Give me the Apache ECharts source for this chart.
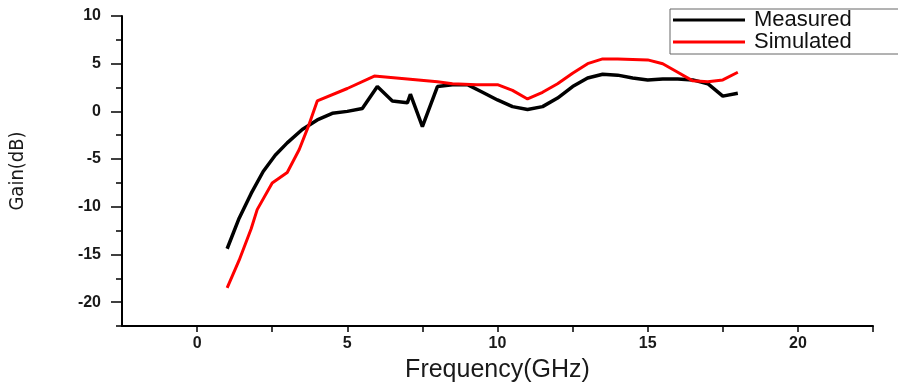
<!DOCTYPE html>
<html>
<head>
<meta charset="utf-8">
<script src="https://cdn.jsdelivr.net/npm/echarts@6/dist/echarts.min.js"></script>
<style>
  html, body { margin: 0; padding: 0; background: #fff; }
  #chart { width: 898px; height: 388px; }
</style>
</head>
<body>
<div id="chart"></div>
<script>
// Measured gain, [frequency GHz, gain dB]
var measured = [
  [1.0, -14.4], [1.4, -11.2], [1.8, -8.6], [2.2, -6.3], [2.6, -4.6],
  [3.0, -3.3], [3.5, -1.9], [4.0, -0.9], [4.5, -0.2], [5.0, 0.0],
  [5.5, 0.3], [6.0, 2.6], [6.5, 1.1], [7.0, 0.9], [7.1, 1.8],
  [7.5, -1.6], [8.0, 2.6], [8.5, 2.8], [9.0, 2.8], [9.5, 2.0],
  [10.0, 1.2], [10.5, 0.5], [11.0, 0.2], [11.5, 0.5], [12.0, 1.4],
  [12.5, 2.6], [13.0, 3.5], [13.5, 3.9], [14.0, 3.8], [14.5, 3.5],
  [15.0, 3.3], [15.5, 3.4], [16.0, 3.4], [16.5, 3.3], [17.0, 2.9],
  [17.5, 1.6], [18.0, 1.9]
];
// Simulated gain
var simulated = [
  [1.0, -18.5], [1.4, -15.6], [1.8, -12.3], [2.0, -10.3], [2.5, -7.5],
  [3.0, -6.4], [3.4, -4.0], [3.7, -1.6], [4.0, 1.1], [5.0, 2.4],
  [5.9, 3.7], [7.0, 3.4], [8.0, 3.1], [8.5, 2.9], [9.3, 2.8],
  [10.0, 2.8], [10.5, 2.2], [11.0, 1.3], [11.5, 2.0], [12.0, 2.9],
  [12.5, 4.0], [13.0, 5.0], [13.5, 5.5], [14.0, 5.5], [15.0, 5.4],
  [15.5, 5.0], [16.0, 4.1], [16.5, 3.2], [17.0, 3.1], [17.5, 3.3],
  [18.0, 4.1]
];
var yMajorTicks = [-20, -15, -10, -5, 0, 5, 10];

var labelFont = {
  fontFamily: "Liberation Sans, Arial, sans-serif",
  fontSize: 16,
  fontWeight: "bold",
  color: "#1a1a1a"
};

var myChart = echarts.init(document.getElementById("chart"));
var option = {
  backgroundColor: "#fff",
  animation: false,
  grid: { left: 121, right: 25, top: 16, bottom: 53 },
  legend: {
    left: 670,
    top: 9,
    orient: "vertical",
    icon: "rect",
    itemWidth: 72,
    itemHeight: 3,
    itemGap: 0,
    padding: [0, 48, 1, 3],
    borderColor: "#666",
    borderWidth: 1,
    textStyle: {
      fontFamily: "Liberation Sans, Arial, sans-serif",
      fontSize: 22,
      lineHeight: 21,
      padding: [0, 0, 0, 4],
      color: "#111"
    },
    data: ["Measured", "Simulated"]
  },
  xAxis: {
    type: "value",
    min: -2.5,
    max: 22.5,
    interval: 2.5,
    name: "Frequency(GHz)",
    nameLocation: "middle",
    nameGap: 32,
    nameTextStyle: {
      fontFamily: "Liberation Sans, Arial, sans-serif",
      fontSize: 25,
      color: "#1a1a1a"
    },
    axisLine: { onZero: false, lineStyle: { color: "#000", width: 2 } },
    axisTick: { show: true, inside: false, length: 6, lineStyle: { color: "#000", width: 1.5 } },
    axisLabel: Object.assign({
      margin: 10,
      showMinLabel: false,
      formatter: function (v) { return v % 5 === 0 ? String(v) : ""; }
    }, labelFont),
    splitLine: { show: false }
  },
  yAxis: [
    {
      type: "value",
      min: -22.5,
      max: 10,
      interval: 2.5,
      name: "Gain(dB)",
      nameLocation: "middle",
      nameRotate: 90,
      nameGap: 94,
      nameTextStyle: {
        fontFamily: "Liberation Sans Narrow, DejaVu Sans Condensed, Arial, sans-serif",
        fontSize: 20,
        color: "#1a1a1a"
      },
      axisLine: { show: true, onZero: false, lineStyle: { color: "#000", width: 2 } },
      axisTick: { show: true, length: 6, lineStyle: { color: "#000", width: 1.5 } },
      axisLabel: { show: false },
      splitLine: { show: false }
    },
    {
      type: "value",
      min: -22.5,
      max: 10,
      position: "left",
      axisLine: { show: false, onZero: false },
      axisTick: {
        show: true,
        length: 11,
        customValues: yMajorTicks,
        lineStyle: { color: "#000", width: 1.5 }
      },
      axisLabel: Object.assign({
        margin: 21,
        customValues: yMajorTicks
      }, labelFont),
      splitLine: { show: false }
    }
  ],
  series: [
    {
      name: "Measured",
      type: "line",
      data: measured,
      yAxisIndex: 0,
      symbol: "none",
      lineStyle: { color: "#000", width: 3.5 },
      itemStyle: { color: "#000" }
    },
    {
      name: "Simulated",
      type: "line",
      data: simulated,
      yAxisIndex: 0,
      symbol: "none",
      lineStyle: { color: "#ff0000", width: 3 },
      itemStyle: { color: "#ff0000" }
    }
  ]
};
option && myChart.setOption(option);
</script>
</body>
</html>
